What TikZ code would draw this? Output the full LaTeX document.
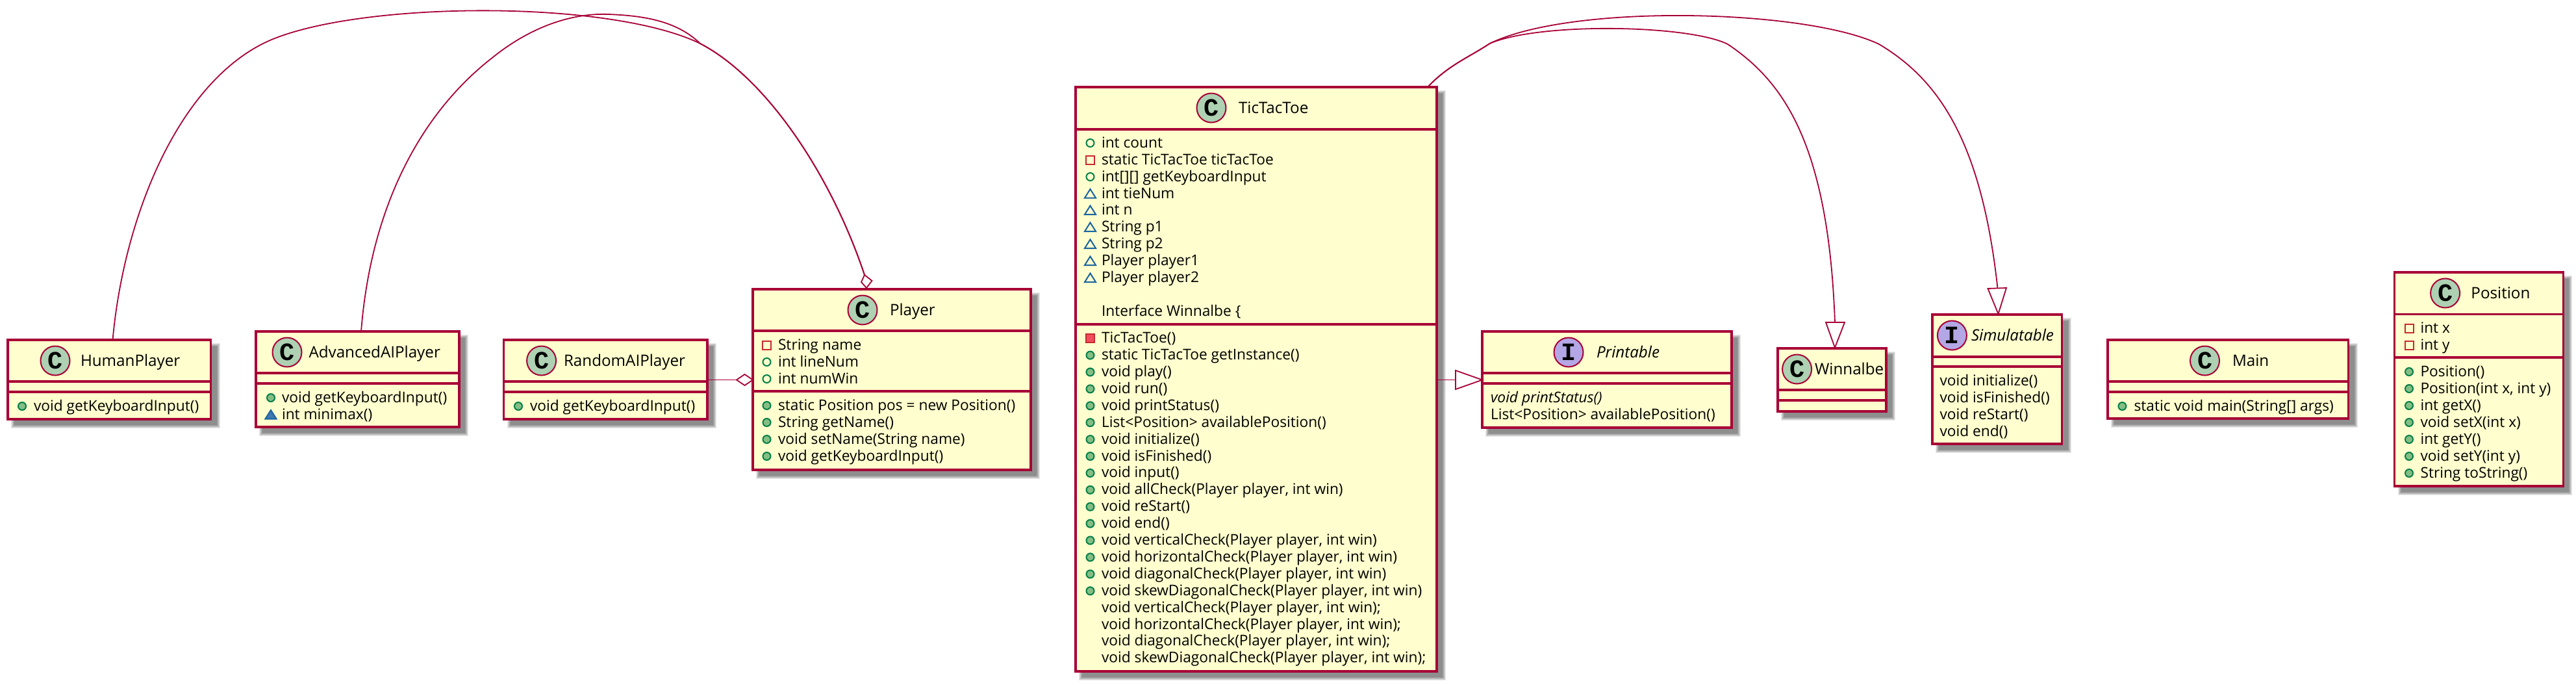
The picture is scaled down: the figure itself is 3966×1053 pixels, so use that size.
\documentclass[tikz,border=0pt]{standalone}
\usepackage{fontspec}
\usetikzlibrary{calc}
\setmainfont{Open Sans}
\newfontfamily\spotfont{Liberation Mono}[BoldFont={Liberation Mono Bold}]
\definecolor{umlline}{HTML}{A80036}
\definecolor{umlfill}{HTML}{FEFECE}
\definecolor{spotc}{HTML}{ADD1B2}
\definecolor{spoti}{HTML}{B4A7E5}
\definecolor{pubs}{HTML}{038048}
\definecolor{pubf}{HTML}{84BE84}
\definecolor{privs}{HTML}{C82930}
\definecolor{privf}{HTML}{F24D5C}
\definecolor{pkgs}{HTML}{1963A0}
\definecolor{pkgf}{HTML}{4177AF}
\tikzset{
  x=0.25pt,y=-0.25pt,
  boxnode/.style={draw=umlline,fill=umlfill,line width=0.8pt,inner sep=0pt,outer sep=0pt},
  sepline/.style={draw=umlline,line width=0.8pt},
  conn/.style={draw=umlline,line width=0.45pt},
  head/.style={draw=umlline,fill=white,line width=0.45pt,line join=miter},
  umltxt/.style={anchor=base west,inner sep=0pt,outer sep=0pt,font=\fontsize{5.68}{6.5}\selectfont},
  umlttl/.style={anchor=base west,inner sep=0pt,outer sep=0pt,font=\fontsize{6.05}{7}\selectfont},
  spot/.style={circle,draw=umlline,line width=0.5pt,minimum size=11.25pt,inner sep=0pt,
     font=\fontsize{9.6}{10}\spotfont\bfseries},
  spotC/.style={spot,fill=spotc},
  spotI/.style={spot,fill=spoti},
  shadowlayer/.style={fill=black,fill opacity=0.09,draw=none},
  pubicon/.style={draw=pubs,line width=0.5pt},
  privicon/.style={draw=privs,line width=0.5pt},
  pkgicon/.style={draw=pkgs,line width=0.5pt,line join=miter},
}
% l t r b sep1 sep2
\newcommand\umlbox[7]{%
  \foreach \d in {0,1,2,3,4,5}{%
    \fill[shadowlayer] ({#2+5+\d},{#3+5+\d}) rectangle ({#4+14-\d},{#5+14-\d});}
  \pgfmathsetmacro\bw{(#4-#2)*0.25}\pgfmathsetmacro\bh{(#5-#3)*0.25}
  \node[boxnode,minimum width=\bw pt,minimum height=\bh pt] (#1) at ({(#2+#4)/2},{(#3+#5)/2}) {};
  \draw[sepline] (#2,#6) -- (#4,#6);
  \draw[sepline] (#2,#7) -- (#4,#7);
}
\newcommand\icnone[2]{}
\newcommand\icpubm[2]{\draw[pubicon,fill=pubf] (#1,#2) circle (6);}
\newcommand\icpuba[2]{\draw[pubicon] (#1,#2) circle (6);}
\newcommand\icprivm[2]{\draw[privicon,fill=privf] ({#1-6.5},{#2-6.5}) rectangle ({#1+6.5},{#2+6.5});}
\newcommand\icpriva[2]{\draw[privicon] ({#1-6.5},{#2-6.5}) rectangle ({#1+6.5},{#2+6.5});}
\newcommand\icpkgm[2]{\draw[pkgicon,fill=pkgf] ({#1-8.5},{#2+6.5}) -- ({#1+8.5},{#2+6.5}) -- (#1,{#2-7}) -- cycle;}
\newcommand\icpkga[2]{\draw[pkgicon] ({#1-8.5},{#2+6.5}) -- ({#1+8.5},{#2+6.5}) -- (#1,{#2-7}) -- cycle;}
% kind name iconx textx y text
\newcommand\urow[6]{\csname ic#1\endcsname{#3}{#5}\node[umltxt] (#2) at (#4,{#5+7}) {#6};}
\newcommand\uttl[4]{\node[umlttl] (#1) at (#2,{#3+8}) {#4};}
\begin{document}
\begin{tikzpicture}
\useasboundingbox (0,0) rectangle (3966,1053);
\fill[white] (0,0) rectangle (3966,1053);

% ---------- boxes
\umlbox{human}{12}{523}{324.5}{645}{587}{603}
\node[spotC] (humanspot) at (85,555) {C};
\uttl{humanname}{124}{555}{HumanPlayer}
\urow{pubm}{human1}{34}{52}{625}{void getKeyboardInput()}

\umlbox{advanced}{394}{510}{707}{657}{574}{590}
\node[spotC] (advancedspot) at (442,542) {C};
\uttl{advancedname}{475.5}{542}{AdvancedAIPlayer}
\urow{pubm}{advanced1}{417}{434}{612}{void getKeyboardInput()}
\urow{pkgm}{advanced2}{417}{434}{638}{int minimax()}

\umlbox{random}{775.5}{523}{1089}{645}{587}{603}
\node[spotC] (randomspot) at (833.6,555) {C};
\uttl{randomname}{868}{555}{RandomAIPlayer}
\urow{pubm}{random1}{798}{816}{625}{void getKeyboardInput()}

\umlbox{player}{1159}{445}{1587}{723}{509}{602}
\node[spotC] (playerspot) at (1328,477) {C};
\uttl{playername}{1370}{477}{Player}
\urow{priva}{player1}{1180.5}{1198}{531}{String name}
\urow{puba}{player2}{1180.5}{1198}{557}{int lineNum}
\urow{puba}{player3}{1180.5}{1198}{583}{int numWin}
\urow{pubm}{player4}{1180.5}{1198}{624}{static Position pos = new Position()}
\urow{pubm}{player5}{1180.5}{1198}{650}{String getName()}
\urow{pubm}{player6}{1180.5}{1198}{676}{void setName(String name)}
\urow{pubm}{player7}{1180.5}{1198}{702}{void getKeyboardInput()}

\umlbox{tic}{1656}{134}{2212}{1033}{199}{499}
\node[spotC] (ticspot) at (1865,166) {C};
\uttl{ticname}{1907}{166}{TicTacToe}
\urow{puba}{tic1}{1678.5}{1696}{220}{int count}
\urow{priva}{tic2}{1678.5}{1696}{246}{static TicTacToe ticTacToe}
\urow{puba}{tic3}{1678.5}{1696}{272}{int[][] getKeyboardInput}
\urow{pkga}{tic4}{1678.5}{1696}{298}{int tieNum}
\urow{pkga}{tic5}{1678.5}{1696}{323.5}{int n}
\urow{pkga}{tic6}{1678.5}{1696}{349.5}{String p1}
\urow{pkga}{tic7}{1678.5}{1696}{375.5}{String p2}
\urow{pkga}{tic8}{1678.5}{1696}{401.5}{Player player1}
\urow{pkga}{tic9}{1678.5}{1696}{427.5}{Player player2}
\urow{none}{tic10}{1678.5}{1696}{479}{Interface Winnalbe \{}
\urow{privm}{tic11}{1678.5}{1696}{520.7}{TicTacToe()}
\urow{pubm}{tic12}{1678.5}{1696}{546.6}{static TicTacToe getInstance()}
\urow{pubm}{tic13}{1678.5}{1696}{572.5}{void play()}
\urow{pubm}{tic14}{1678.5}{1696}{598.4}{void run()}
\urow{pubm}{tic15}{1678.5}{1696}{624.3}{void printStatus()}
\urow{pubm}{tic16}{1678.5}{1696}{650.2}{List<Position> availablePosition()}
\urow{pubm}{tic17}{1678.5}{1696}{676.1}{void initialize()}
\urow{pubm}{tic18}{1678.5}{1696}{702}{void isFinished()}
\urow{pubm}{tic19}{1678.5}{1696}{727.9}{void input()}
\urow{pubm}{tic20}{1678.5}{1696}{753.8}{void allCheck(Player player, int win)}
\urow{pubm}{tic21}{1678.5}{1696}{779.7}{void reStart()}
\urow{pubm}{tic22}{1678.5}{1696}{805.6}{void end()}
\urow{pubm}{tic23}{1678.5}{1696}{831.5}{void verticalCheck(Player player, int win)}
\urow{pubm}{tic24}{1678.5}{1696}{857.4}{void horizontalCheck(Player player, int win)}
\urow{pubm}{tic25}{1678.5}{1696}{883.3}{void diagonalCheck(Player player, int win)}
\urow{pubm}{tic26}{1678.5}{1696}{909.2}{void skewDiagonalCheck(Player player, int win)}
\urow{none}{tic27}{1678.5}{1696}{935.1}{void verticalCheck(Player player, int win);}
\urow{none}{tic28}{1678.5}{1696}{961}{void horizontalCheck(Player player, int win);}
\urow{none}{tic29}{1678.5}{1696}{986.9}{void diagonalCheck(Player player, int win);}
\urow{none}{tic30}{1678.5}{1696}{1012.8}{void skewDiagonalCheck(Player player, int win);}

\umlbox{printable}{2282}{510}{2666}{658}{574}{590}
\node[spotI] (printablespot) at (2415,542) {I};
\uttl{printablename}{2458}{542}{\itshape Printable}
\urow{none}{printable1}{2295}{2295}{612}{\itshape void printStatus()}
\urow{none}{printable2}{2295}{2295}{638}{List<Position> availablePosition()}

\umlbox{winnable}{2737}{536}{2904}{633}{600}{616}
\node[spotC] (winnablespot) at (2766.6,568) {C};
\uttl{winnablename}{2794}{568}{Winnalbe}

\umlbox{simulatable}{2975}{484}{3174.6}{683}{549}{564}
\node[spotI] (simulatablespot) at (3005.4,516) {I};
\uttl{simulatablename}{3035}{516}{\itshape Simulatable}
\urow{none}{sim1}{2986.5}{2986.5}{586}{void initialize()}
\urow{none}{sim2}{2986.5}{2986.5}{612}{void isFinished()}
\urow{none}{sim3}{2986.5}{2986.5}{638}{void reStart()}
\urow{none}{sim4}{2986.5}{2986.5}{664}{void end()}

\umlbox{main}{3245}{523}{3615.5}{644}{587}{603}
\node[spotC] (mainspot) at (3394.5,555) {C};
\uttl{mainname}{3437}{555}{Main}
\urow{pubm}{main1}{3267.4}{3285.6}{625}{static void main(String[] args)}

\umlbox{position}{3686.7}{419}{3946.4}{748}{483.7}{550}
\node[spotC] (positionspot) at (3764.6,451) {C};
\uttl{positionname}{3804.4}{451}{Position}
\urow{priva}{position1}{3709}{3726.5}{505}{int x}
\urow{priva}{position2}{3709}{3726.5}{531}{int y}
\urow{pubm}{position3}{3709}{3726.5}{572}{Position()}
\urow{pubm}{position4}{3709}{3726.5}{598}{Position(int x, int y)}
\urow{pubm}{position5}{3709}{3726.5}{624}{int getX()}
\urow{pubm}{position6}{3709}{3726.5}{650}{void setX(int x)}
\urow{pubm}{position7}{3709}{3726.5}{676}{int getY()}
\urow{pubm}{position8}{3709}{3726.5}{702}{void setY(int y)}
\urow{pubm}{position9}{3709}{3726.5}{728}{String toString()}

% ---------- connectors
% HumanPlayer o-- Player
\draw[conn] ($(human.north west)+(161.5,0)$)
  .. controls (190,340) and (270,135) .. (405,67)
  .. controls (535,2) and (934,-3) .. (1078,67)
  .. controls (1180,120) and (1280,270) .. ($(player.north west)+(172,-22)$);
% AdvancedAIPlayer o-- Player
\draw[conn] ($(advanced.north west)+(162,0)$)
  .. controls (570,330) and (640,180) .. (759,88)
  .. controls (825,35) and (890,20) .. (937,22)
  .. controls (985,24) and (1040,30) .. (1078,67)
  .. controls (1180,120) and (1280,270) .. ($(player.north west)+(172,-22)$);
\draw[head] ($(player.north west)+(172,-22)$) -- ($(player.north west)+(183.5,-13)$)
  -- ($(player.north west)+(175,-2)$) -- ($(player.north west)+(167,-11)$) -- cycle;
% RandomAIPlayer o-- Player
\draw[conn] (random.east |- 0,584.5) -- ($(player.west |- 0,584.5)+(-25,0)$);
\draw[head] ($(player.west |- 0,584.5)+(-25,0)$) -- ($(player.west |- 0,584.5)+(-12.5,-8.5)$)
  -- (player.west |- 0,584.5) -- ($(player.west |- 0,584.5)+(-12.5,8.5)$) -- cycle;
% TicTacToe --|> Printable
\draw[conn] (tic.east |- 0,584.5) -- ($(printable.west |- 0,584.5)+(-41,0)$);
\draw[head] ($(printable.west |- 0,584.5)+(-41,-14.5)$) -- (printable.west |- 0,584.5)
  -- ($(printable.west |- 0,584.5)+(-41,14.5)$) -- cycle;
% TicTacToe --|> Winnalbe
\draw[conn] ($(tic.north east)+(-14,0)$) .. controls (2230,100) and (2262,88) .. (2293.5,67)
  .. controls (2370,34) and (2600,38) .. (2660,68)
  .. controls (2745,125) and (2815,220) .. ($(winnable.north west)+(88,-40)$);
\draw[head] ($(winnable.north west)+(74,-40)$) -- ($(winnable.north west)+(103,-40)$)
  -- ($(winnable.north west)+(88,-1)$) -- cycle;
% TicTacToe --|> Simulatable
\draw[conn] ($(tic.north east)+(-14,0)$) .. controls (2230,100) and (2262,88) .. (2293.5,67)
  .. controls (2420,5) and (2780,14) .. (2893,68)
  .. controls (2980,120) and (3050,210) .. ($(simulatable.north west)+(100.5,-40.5)$);
\draw[head] ($(simulatable.north west)+(85.5,-40)$) -- ($(simulatable.north west)+(114,-41)$)
  -- ($(simulatable.north west)+(101.5,-1)$) -- cycle;
\end{tikzpicture}
\end{document}
